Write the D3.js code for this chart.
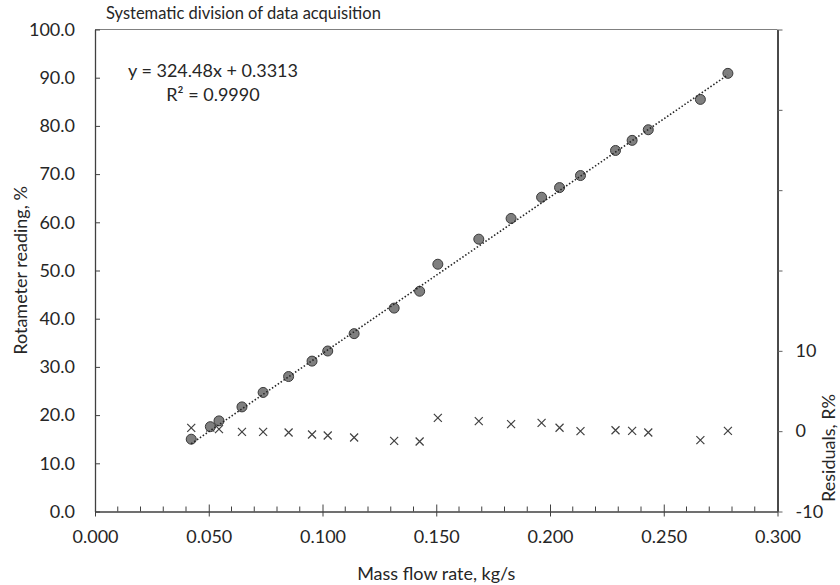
<!DOCTYPE html>
<html>
<head>
<meta charset="utf-8">
<script src="https://cdn.jsdelivr.net/npm/d3@7"></script>
<style>
  body { margin: 0; background: #fff; }
  text { font-family: Lato, "Open Sans", sans-serif; fill: #262626; }
</style>
</head>
<body>
<svg id="chart" width="840" height="585"></svg>
<script>
// Calibration points: mass flow rate (kg/s), rotameter reading (%), residual (%)
const massFlow = [0.0423, 0.0507, 0.0545, 0.0646, 0.0739, 0.0851, 0.0954, 0.1023, 0.1139, 0.1315, 0.1427,
                  0.1507, 0.1687, 0.1829, 0.1963, 0.2042, 0.2134, 0.2288, 0.2361, 0.2432, 0.2661, 0.2782];
const reading  = [15.0, 17.6, 18.8, 21.7, 24.7, 28.0, 31.2, 33.3, 36.9, 42.2, 45.7,
                  51.3, 56.5, 60.8, 65.2, 67.2, 69.7, 74.9, 77.0, 79.2, 85.5, 90.9];
const residual = [0.41, 0.46, 0.25, -0.08, -0.08, -0.17, -0.42, -0.54, -0.79, -1.21, -1.29,
                  1.66, 1.25, 0.88, 1.04, 0.42, 0.0, 0.12, 0.04, -0.17, -1.12, 0.04];

// Linear fit
const slope = 324.48;
const intercept = 0.3313;
const r2 = "0.9990";

// Axis ticks
const xMajor = [0, 0.05, 0.10, 0.15, 0.20, 0.25, 0.30];
const xMinor = d3.range(1, 30).map(i => i / 100).filter(v => Math.round(v * 100) % 5 !== 0);
const yTicks = [0, 10, 20, 30, 40, 50, 60, 70, 80, 90, 100];
const rTicks = [-10, 0, 10, 20, 30, 40, 50];
const rLabelled = [-10, 0, 10];

const svg = d3.select("#chart");
const L = 95, R = 777.5, T = 29.5, B = 511.5;
const fs = 18;

const x = d3.scaleLinear().domain([0, 0.3]).range([L, R]);
const y = d3.scaleLinear().domain([0, 100]).range([B, T]);
const r = d3.scaleLinear().domain([-10, 50]).range([B, T]);

const axisColor = "#404040";

// top frame line
svg.append("line")
  .attr("x1", L).attr("x2", R).attr("y1", T).attr("y2", T)
  .attr("stroke", "#808080").attr("stroke-width", 1.2);

// left axis (ticks point inward)
const gy = svg.append("g").attr("transform", `translate(${L},0)`)
  .call(d3.axisLeft(y).tickValues(yTicks).tickSizeInner(-5).tickSizeOuter(0)
        .tickPadding(20).tickFormat(d3.format(".1f")));
gy.select(".domain").attr("stroke", axisColor).attr("stroke-width", 1.3);
gy.selectAll(".tick line").attr("stroke", axisColor);
gy.selectAll(".tick text").attr("font-size", fs).attr("fill", "#262626").attr("font-family", "Lato, sans-serif");

// bottom axis (major ticks cross the axis, minor ticks inside)
const gx = svg.append("g").attr("transform", `translate(0,${B})`)
  .call(d3.axisBottom(x).tickValues(xMajor).tickSizeInner(5).tickSizeOuter(0)
        .tickPadding(14).tickFormat(d3.format(".3f")));
gx.select(".domain").attr("stroke", axisColor).attr("stroke-width", 1.3);
gx.selectAll(".tick line").attr("stroke", axisColor).attr("y1", -7);
gx.selectAll(".tick text").attr("font-size", fs).attr("fill", "#262626").attr("font-family", "Lato, sans-serif");
gx.selectAll(".minor").data(xMinor).join("line")
  .attr("class", "minor")
  .attr("x1", d => x(d)).attr("x2", d => x(d))
  .attr("y1", -5).attr("y2", 0)
  .attr("stroke", axisColor).attr("stroke-width", 1);

// right axis for residuals
const gr = svg.append("g").attr("transform", `translate(${R},0)`)
  .call(d3.axisRight(r).tickValues(rTicks).tickSizeInner(5).tickSizeOuter(0)
        .tickPadding(13).tickFormat(d => rLabelled.includes(d) ? d : ""));
gr.select(".domain").attr("stroke", "#4a4a4a").attr("stroke-width", 2);
gr.selectAll(".tick line").attr("stroke", "#606060");
gr.selectAll(".tick text").attr("font-size", fs).attr("fill", "#262626").attr("font-family", "Lato, sans-serif");

// residual markers
svg.append("g").selectAll("path").data(massFlow).join("path")
  .attr("transform", (d, i) => `translate(${x(d)},${r(residual[i])})`)
  .attr("d", "M-4,-4L4,4M-4,4L4,-4")
  .attr("stroke", "#404040").attr("stroke-width", 1.2).attr("fill", "none");

// reading markers
svg.append("g").selectAll("circle").data(massFlow).join("circle")
  .attr("cx", d => x(d)).attr("cy", (d, i) => y(reading[i]))
  .attr("r", 5)
  .attr("fill", "#7f7f7f").attr("stroke", "#3a3a3a").attr("stroke-width", 1);

// dotted trend line over the data range
const xExt = d3.extent(massFlow);
svg.append("line")
  .attr("x1", x(xExt[0])).attr("y1", y(slope * xExt[0] + intercept))
  .attr("x2", x(xExt[1])).attr("y2", y(slope * xExt[1] + intercept))
  .attr("stroke", "#262626").attr("stroke-width", 1.6)
  .attr("stroke-dasharray", "1.5,2");

// texts
svg.append("text").attr("x", 106).attr("y", 19).attr("font-size", 16.5)
  .text("Systematic division of data acquisition");

svg.append("text").attr("x", 213).attr("y", 77).attr("text-anchor", "middle").attr("font-size", fs)
  .text(`y = ${slope}x + ${intercept}`);
svg.append("text").attr("x", 213).attr("y", 101).attr("text-anchor", "middle").attr("font-size", fs)
  .text(`R² = ${r2}`);

svg.append("text").attr("x", (L + R) / 2).attr("y", 580).attr("text-anchor", "middle").attr("font-size", fs)
  .text("Mass flow rate, kg/s");

svg.append("text").attr("transform", `translate(27,${(T + B) / 2}) rotate(-90)`)
  .attr("text-anchor", "middle").attr("font-size", fs)
  .text("Rotameter reading, %");

svg.append("text").attr("transform", `translate(835,448) rotate(-90)`)
  .attr("text-anchor", "middle").attr("font-size", fs)
  .text("Residuals, R%");
</script>
</body>
</html>
